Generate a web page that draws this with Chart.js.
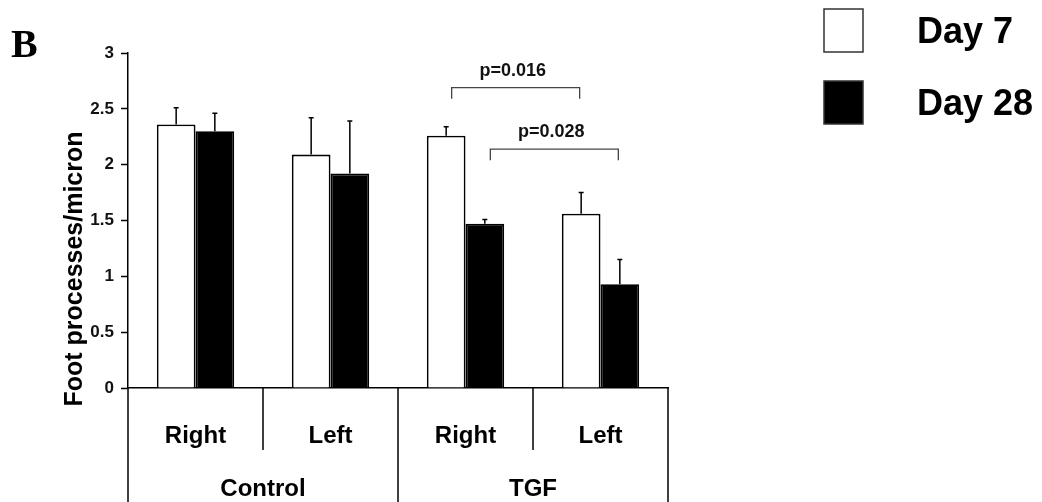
<!DOCTYPE html>
<html>
<head>
<meta charset="utf-8">
<script src="https://cdn.jsdelivr.net/npm/chart.js@4/dist/chart.umd.min.js"></script>
<style>
  html, body { margin: 0; padding: 0; background: #fff; }
  canvas { display: block; }
</style>
</head>
<body>
<canvas id="foot_processes_chart" width="1042" height="502"></canvas>
<script>
// bar categories, two levels
const sides = ["Right", "Left", "Right", "Left"];
const groups = ["Control", "TGF"];

// foot processes per micron
const day7 = [2.36, 2.09, 2.26, 1.56];
const day7_err = [0.15, 0.33, 0.08, 0.19];
const day28 = [2.30, 1.92, 1.47, 0.93];
const day28_err = [0.16, 0.47, 0.04, 0.22];

const y_ticks = [0, 0.5, 1, 1.5, 2, 2.5, 3];

// significance brackets: series, first and last category, level
const p_labels = ["p=0.016", "p=0.028"];
const p_series = [0, 1];
const p_from = [2, 2];
const p_to = [3, 3];
const p_levels = [2.69, 2.14];
const p_feet = [2.59, 2.04];

Chart.defaults.font.family = "'Liberation Sans', Arial, sans-serif";
Chart.defaults.color = "#000";

const decor =
{
    id: "decor",
    afterDatasetsDraw(chart)
    {
        const ctx = chart.ctx;
        const x = chart.scales.x;
        const y = chart.scales.y;
        const area = chart.chartArea;

        ctx.save();

        // error bars, upper half only
        ctx.strokeStyle = "#000";
        ctx.lineWidth = 1.5;
        [day7_err, day28_err].forEach((errs, d) =>
        {
            const values = chart.data.datasets[d].data;
            chart.getDatasetMeta(d).data.forEach((bar, i) =>
            {
                const top = y.getPixelForValue(values[i] + errs[i]);
                ctx.beginPath();
                ctx.moveTo(bar.x, bar.y);
                ctx.lineTo(bar.x, top);
                ctx.moveTo(bar.x - 2.5, top);
                ctx.lineTo(bar.x + 2.5, top);
                ctx.stroke();
            });
        });

        // p-value brackets
        p_labels.forEach((label, k) =>
        {
            const bars = chart.getDatasetMeta(p_series[k]).data;
            const x0 = bars[p_from[k]].x + 5.5;
            const x1 = bars[p_to[k]].x - 1.5;
            const yl = y.getPixelForValue(p_levels[k]);
            const yf = y.getPixelForValue(p_feet[k]);
            ctx.strokeStyle = "#444";
            ctx.lineWidth = 1.3;
            ctx.beginPath();
            ctx.moveTo(x0, yf);
            ctx.lineTo(x0, yl);
            ctx.lineTo(x1, yl);
            ctx.lineTo(x1, yf);
            ctx.stroke();
            ctx.fillStyle = "#111";
            ctx.font = "bold 18px 'Liberation Sans', Arial, sans-serif";
            ctx.textAlign = "center";
            ctx.textBaseline = "alphabetic";
            ctx.fillText(label, (x0 + x1) / 2 - 3, yl - 12);
        });

        // category table under the axis
        const step = x.getPixelForValue(1) - x.getPixelForValue(0);
        ctx.strokeStyle = "#000";
        ctx.lineWidth = 1.5;
        for (let i = 0; i <= sides.length; i++)
        {
            const xb = x.getPixelForValue(i) - step / 2;
            const bottom = (i % 2 === 0) ? chart.height : area.bottom + 62;
            ctx.beginPath();
            ctx.moveTo(xb, area.bottom);
            ctx.lineTo(xb, bottom);
            ctx.stroke();
        }
        ctx.fillStyle = "#000";
        ctx.font = "bold 24px 'Liberation Sans', Arial, sans-serif";
        ctx.textAlign = "center";
        ctx.textBaseline = "middle";
        groups.forEach((g, j) =>
        {
            const xc = (x.getPixelForValue(2 * j) + x.getPixelForValue(2 * j + 1)) / 2;
            ctx.fillText(g, xc, area.bottom + 101);
        });

        // y axis title
        ctx.save();
        ctx.translate(82, 269);
        ctx.rotate(-Math.PI / 2);
        ctx.font = "bold 25px 'Liberation Sans', Arial, sans-serif";
        ctx.textAlign = "center";
        ctx.textBaseline = "alphabetic";
        ctx.fillText("Foot processes/micron", 0, 0);
        ctx.restore();

        // panel letter
        ctx.font = "bold 40px 'Liberation Serif', 'Times New Roman', serif";
        ctx.textAlign = "left";
        ctx.textBaseline = "alphabetic";
        ctx.fillText("B", 11, 57);

        // legend
        ctx.font = "bold 36px 'Liberation Sans', Arial, sans-serif";
        ctx.textBaseline = "alphabetic";
        chart.data.datasets.forEach((ds, d) =>
        {
            const top = 9 + d * 72;
            ctx.fillStyle = ds.backgroundColor;
            ctx.fillRect(824, top, 39, 43);
            ctx.strokeStyle = "#333";
            ctx.lineWidth = 1.5;
            ctx.strokeRect(824, top, 39, 43);
            ctx.fillStyle = "#000";
            ctx.fillText(ds.label, 917, top + 34);
        });

        ctx.restore();
    }
};

new Chart("foot_processes_chart",
{
    type: "bar",
    data:
    {
        labels: sides,
        datasets:
        [
            {
                label: "Day 7",
                data: day7,
                backgroundColor: "#fff",
                borderColor: "#000",
                borderWidth: 1.8
            },
            {
                label: "Day 28",
                data: day28,
                backgroundColor: "#000",
                borderColor: "#000",
                borderWidth: 1.8
            }
        ]
    },
    options:
    {
        responsive: false,
        animation: false,
        layout:
        {
            padding: { top: 53, right: 374, bottom: 0, left: 0 }
        },
        datasets:
        {
            bar:
            {
                categoryPercentage: 0.573,
                barPercentage: 1.0
            }
        },
        plugins:
        {
            legend: { display: false },
            tooltip: { enabled: false }
        },
        scales:
        {
            x:
            {
                afterFit(scale) { scale.height = 114; },
                grid: { display: false },
                border: { display: true, color: "#000", width: 1.5 },
                ticks:
                {
                    padding: 26,
                    font: { size: 24, weight: "bold" }
                }
            },
            y:
            {
                min: 0,
                max: 3,
                afterFit(scale) { scale.width = 128; },
                afterBuildTicks(scale) { scale.ticks = y_ticks.map(v => ({ value: v })); },
                grid:
                {
                    drawOnChartArea: false,
                    drawTicks: true,
                    tickLength: 7,
                    tickColor: "#000",
                    tickWidth: 1.5
                },
                border: { display: true, color: "#000", width: 1.5 },
                ticks:
                {
                    padding: 7,
                    font: { size: 17, weight: "bold" },
                    color: "#111",
                    callback: v => String(v)
                }
            }
        }
    },
    plugins: [decor]
});
</script>
</body>
</html>
